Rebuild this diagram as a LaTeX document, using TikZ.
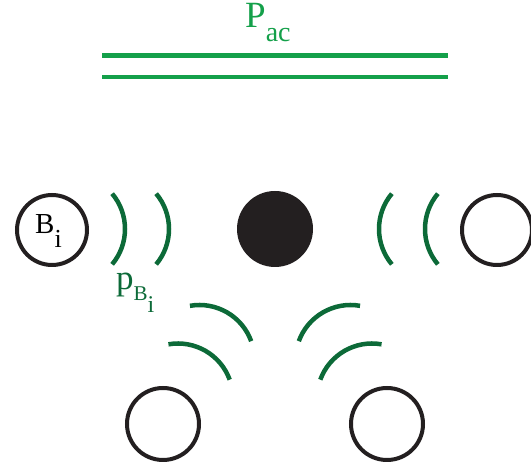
\documentclass[tikz,border=0pt]{standalone}
\usepackage{fontspec}
\setmainfont{Liberation Serif}
\usepackage{tikz}
\definecolor{acgreen}  {HTML}{14A04A}
\definecolor{wavegreen}{HTML}{0C6A38}
\definecolor{bubble}   {HTML}{231F20}

\begin{document}
\begin{tikzpicture}[x=1pt,y=1pt]
        \useasboundingbox (0,0) rectangle (531,468);
        % acoustic field
        \draw[acgreen,line width=4.5pt] (102,412.5) coordinate (ac1) -- (448,412.5) coordinate (ac2);
        \draw[acgreen,line width=4.5pt] (102,391) coordinate (ac3) -- (448,391) coordinate (ac4);
        \node[acgreen,anchor=base west,inner sep=0pt] (pac) at (245,440)
              {\fontsize{37}{38}\selectfont P\raisebox{-14pt}{\fontsize{28}{29}\selectfont ac}};
        % central bubble
        \fill[bubble] (275,239) circle (38);
        % neighbour bubbles
        \draw[bubble,line width=4pt] (52,238) circle (35);
        \draw[bubble,line width=4pt] (497,238) circle (35);
        \draw[bubble,line width=4pt] (163,44) circle (36);
        \draw[bubble,line width=4pt] (387,44) circle (36);
        \node[anchor=base west,inner sep=0pt] (bi) at (35,234)
              {\fontsize{29}{30}\selectfont B\raisebox{-14pt}{\fontsize{26}{27}\selectfont i}};
        % scattered waves, left and right
        \draw[wavegreen,line width=4.5pt] (70,239) ++(-40:55) arc[start angle=-40,end angle=40,radius=55];
        \draw[wavegreen,line width=4.5pt] (114,239) ++(-40:55) arc[start angle=-40,end angle=40,radius=55];
        \draw[wavegreen,line width=4.5pt] (480,239) ++(140:55) arc[start angle=140,end angle=220,radius=55];
        \draw[wavegreen,line width=4.5pt] (434,239) ++(140:55) arc[start angle=140,end angle=220,radius=55];
        % scattered waves, below
        \draw[wavegreen,line width=4.5pt] (199.5,108) ++(20:55) arc[start angle=20,end angle=100,radius=55];
        \draw[wavegreen,line width=4.5pt] (178,69.5) ++(20:55) arc[start angle=20,end angle=100,radius=55];
        \draw[wavegreen,line width=4.5pt] (350.5,108) ++(80:55) arc[start angle=80,end angle=160,radius=55];
        \draw[wavegreen,line width=4.5pt] (372,69.5) ++(80:55) arc[start angle=80,end angle=160,radius=55];
        \node[wavegreen,anchor=base west,inner sep=0pt] (pbi) at (116,178)
              {\fontsize{35}{36}\selectfont p\raisebox{-11pt}{\fontsize{21}{22}\selectfont B\raisebox{-12pt}{\fontsize{24}{25}\selectfont i}}};
      \end{tikzpicture}
\end{document}
